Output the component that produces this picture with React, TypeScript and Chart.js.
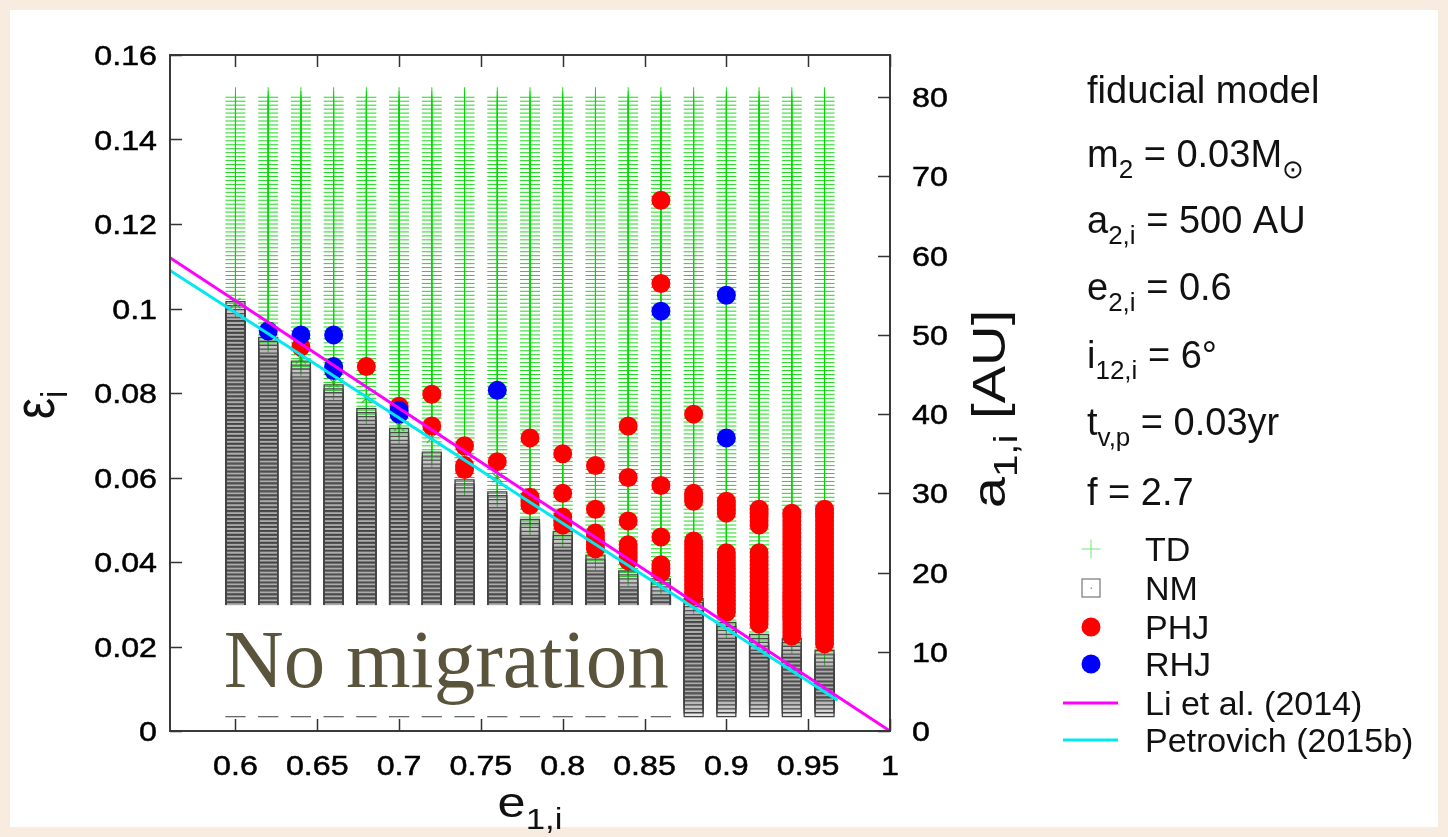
import React, { useEffect, useRef } from "react";
import { Chart, registerables } from "chart.js";

Chart.register(...registerables);

// ---------------- data ----------------
// initial eccentricity of the inner planet for every simulated column
const eColumns = [0.60, 0.62, 0.64, 0.66, 0.68, 0.70, 0.72, 0.74, 0.76, 0.78, 0.80, 0.82, 0.84, 0.86, 0.88, 0.90, 0.92, 0.94, 0.96];
// initial semi-major axis grid of the simulations (AU)
const aGridStart = 3;
const aGridEnd = 80;
const aGridStep = 0.5;
// highest a_{1,i} (AU) of each column that ended as "no migration"
const nmTopAU = [53, 48.5, 45.5, 42.5, 39.5, 37, 34, 30.5, 29, 25.5, 24, 21, 19, 18, 15.5, 12.5, 11, 10.5, 9];
// prograde hot Jupiters: [from, to] ranges of a_{1,i} (AU) per column
const phjAU: number[][][] = [
  [], [], [[48.5, 48.5]], [], [[46, 46]], [[41, 41]],
  [[42.5, 42.5], [38.5, 38.5]],
  [[36, 36], [33, 33.5]],
  [[34, 34]],
  [[37, 37], [28.5, 29.5]],
  [[35, 35], [30, 30], [26, 27]],
  [[33.5, 33.5], [28, 28], [23, 25]],
  [[38.5, 38.5], [32, 32], [26.5, 26.5], [21.5, 23.5]],
  [[67, 67], [56.5, 56.5], [31, 31], [24.5, 24.5], [20, 21]],
  [[40, 40], [29, 30], [17, 24]],
  [[27.5, 29], [15, 22.5]],
  [[26, 28], [13.5, 22.5]],
  [[12, 27.5]],
  [[11, 28]],
];
// retrograde hot Jupiters: a_{1,i} (AU) per column
const rhjAU: number[][] = [
  [], [50.5], [50], [50, 45.5, 46], [], [40, 40.5], [], [], [43], [], [], [], [], [53], [], [55, 37], [], [], [],
];
// green "x" marks sitting on the NM / TD border (AU)
const edgeMarkAU = [54, 51, 47, 44, 42, 38.5, 37, 34.5, 32, 30];
// analytic criteria (epsilon vs e_{1,i})
const liE = [0.56, 1.0];
const liEps = [0.112, 0.0];
const petE = [0.56, 0.968];
const petEps = [0.109, 0.0073];
// axes
const xTicks = [0.6, 0.65, 0.7, 0.75, 0.8, 0.85, 0.9, 0.95, 1];
const xTickLabels = ["0.6", "0.65", "0.7", "0.75", "0.8", "0.85", "0.9", "0.95", "1"];
const yTicks = [0, 0.02, 0.04, 0.06, 0.08, 0.1, 0.12, 0.14, 0.16];
const yTickLabels = ["0", "0.02", "0.04", "0.06", "0.08", "0.1", "0.12", "0.14", "0.16"];
const y2Ticks = [0, 10, 20, 30, 40, 50, 60, 70, 80];
const y2TickLabels = ["0", "10", "20", "30", "40", "50", "60", "70", "80"];
const epsPerAU = 0.001875; // eps = a1 / a2 * e2 / (1 - e2^2)
const annotationText = "No migration";
const annotationBoxE = [0.588, 0.8715];
const annotationBoxEps = [0.0035, 0.0298];

type Run = { t: string; sub?: boolean };
const paramLines: Run[][] = [
  [{ t: "fiducial model" }],
  [{ t: "m" }, { t: "2", sub: true }, { t: " = 0.03M" }, { t: "\u2299", sub: true }],
  [{ t: "a" }, { t: "2,i", sub: true }, { t: " = 500 AU" }],
  [{ t: "e" }, { t: "2,i", sub: true }, { t: " = 0.6" }],
  [{ t: "i" }, { t: "12,i", sub: true }, { t: " = 6\u00b0" }],
  [{ t: "t" }, { t: "v,p", sub: true }, { t: " = 0.03yr" }],
  [{ t: "f = 2.7" }],
];
const legendLabels = ["TD", "NM", "PHJ", "RHJ", "Li et al. (2014)", "Petrovich (2015b)"];

// ---------------- build point sets from the grid ----------------
const aGrid: number[] = [];
for (let a = aGridStart; a <= aGridEnd + 1e-9; a += aGridStep) aGrid.push(Math.round(a * 2) / 2);

const inRanges = (a: number, rs: number[][]) => rs.some(([lo, hi]) => a >= lo - 1e-9 && a <= hi + 1e-9);

const tdPts: { x: number; y: number }[] = [];
const nmPts: { x: number; y: number }[] = [];
const phjPts: { x: number; y: number }[] = [];
const rhjPts: { x: number; y: number }[] = [];
const edgePts: { x: number; y: number }[] = [];
eColumns.forEach((e, i) => {
  aGrid.forEach((a) => {
    if (a <= nmTopAU[i] + 1e-9) nmPts.push({ x: e, y: a });
    else if (!inRanges(a, phjAU[i]) && !rhjAU[i].includes(a)) tdPts.push({ x: e, y: a });
  });
  aGrid.forEach((a) => {
    if (inRanges(a, phjAU[i])) phjPts.push({ x: e, y: a });
  });
  rhjAU[i].forEach((a) => rhjPts.push({ x: e, y: a }));
  if (i < edgeMarkAU.length) edgePts.push({ x: e, y: edgeMarkAU[i] });
});

// ---------------- drawing helpers ----------------
const SANS = '"Liberation Sans", Arial, Helvetica, sans-serif';

function drawStretched(ctx: CanvasRenderingContext2D, text: string, x: number, y: number, font: string, align: CanvasTextAlign, sx: number) {
  ctx.save();
  ctx.translate(x, y);
  ctx.scale(sx, 1);
  ctx.font = font;
  ctx.textAlign = align;
  ctx.textBaseline = "alphabetic";
  ctx.fillText(text, 0, 0);
  ctx.lineWidth = 0.5;
  ctx.strokeStyle = ctx.fillStyle as string;
  ctx.strokeText(text, 0, 0);
  ctx.restore();
}

function runsWidth(ctx: CanvasRenderingContext2D, runs: Run[], size: number, subSize: number) {
  let w = 0;
  runs.forEach((r) => {
    ctx.font = `${r.sub ? subSize : size}px ${SANS}`;
    w += ctx.measureText(r.t).width;
  });
  return w;
}

function drawRuns(ctx: CanvasRenderingContext2D, runs: Run[], x: number, y: number, size: number, subSize: number, subDy: number) {
  let cx = x;
  ctx.textAlign = "left";
  ctx.textBaseline = "alphabetic";
  runs.forEach((r) => {
    ctx.font = `${r.sub ? subSize : size}px ${SANS}`;
    ctx.fillText(r.t, cx, r.sub ? y + subDy : y);
    cx += ctx.measureText(r.t).width;
  });
}

const decorPlugin = {
  id: "decor",
  beforeDraw(chart: any) {
    const ctx: CanvasRenderingContext2D = chart.ctx;
    ctx.save();
    ctx.fillStyle = "#f8ebdf";
    ctx.fillRect(0, 0, chart.width, chart.height);
    ctx.fillStyle = "#ffffff";
    ctx.fillRect(10, 10, chart.width - 20, chart.height - 20);
    ctx.restore();
  },
  afterDatasetsDraw(chart: any) {
    const ctx: CanvasRenderingContext2D = chart.ctx;
    const { chartArea: ca, scales } = chart;
    const xs = scales.x, ys = scales.y, y2s = scales.y2;
    ctx.save();

    // annotation box
    const bx0 = xs.getPixelForValue(annotationBoxE[0]);
    const bx1 = xs.getPixelForValue(annotationBoxE[1]);
    const by0 = ys.getPixelForValue(annotationBoxEps[1]);
    const by1 = ys.getPixelForValue(annotationBoxEps[0]);
    ctx.fillStyle = "#ffffff";
    ctx.fillRect(bx0, by0, bx1 - bx0, by1 - by0);
    ctx.fillStyle = "#5a543c";
    ctx.font = '83px "Liberation Serif", "Times New Roman", serif';
    ctx.textAlign = "left";
    ctx.textBaseline = "alphabetic";
    ctx.fillText(annotationText, bx0 + 8, by0 + 82);

    // frame
    ctx.strokeStyle = "#3a3a3a";
    ctx.lineWidth = 2;
    ctx.strokeRect(ca.left, ca.top, ca.right - ca.left, ca.bottom - ca.top);

    // inward ticks
    ctx.lineWidth = 1.5;
    ctx.strokeStyle = "#333";
    const TL = 12;
    ctx.beginPath();
    xTicks.forEach((v) => {
      const px = Math.round(xs.getPixelForValue(v)) + 0.5;
      ctx.moveTo(px, ca.bottom);
      ctx.lineTo(px, ca.bottom - TL);
      ctx.moveTo(px, ca.top);
      ctx.lineTo(px, ca.top + TL);
    });
    yTicks.forEach((v) => {
      const py = Math.round(ys.getPixelForValue(v)) + 0.5;
      ctx.moveTo(ca.left, py);
      ctx.lineTo(ca.left + TL, py);
    });
    y2Ticks.forEach((v) => {
      const py = Math.round(y2s.getPixelForValue(v)) + 0.5;
      ctx.moveTo(ca.right, py);
      ctx.lineTo(ca.right - TL, py);
    });
    ctx.stroke();

    // tick labels
    ctx.fillStyle = "#000";
    const tf = `28px ${SANS}`;
    const SX = 1.15;
    xTicks.forEach((v, i) => drawStretched(ctx, xTickLabels[i], xs.getPixelForValue(v), ca.bottom + 44, tf, "center", SX));
    yTicks.forEach((v, i) => drawStretched(ctx, yTickLabels[i], ca.left - 13, ys.getPixelForValue(v) + 10, tf, "right", SX));
    y2Ticks.forEach((v, i) => drawStretched(ctx, y2TickLabels[i], ca.right + 22, y2s.getPixelForValue(v) + 10, tf, "left", SX));

    // x title
    ctx.fillStyle = "#111";
    const xt: Run[] = [{ t: "e" }, { t: "1,i", sub: true }];
    ctx.save();
    const xcx = (ca.left + ca.right) / 2;
    ctx.translate(xcx, ca.bottom + 86);
    ctx.scale(1.2, 1);
    const xw = runsWidth(ctx, xt, 42, 29);
    drawRuns(ctx, xt, -xw / 2, 0, 42, 29, 12);
    ctx.restore();

    // y title (rotated)
    const yt: Run[] = [{ t: "\u03b5" }, { t: "i", sub: true }];
    ctx.save();
    ctx.translate(54, (ca.top + ca.bottom) / 2 + 12);
    ctx.rotate(-Math.PI / 2);
    ctx.scale(1, 1.2);
    const yw = runsWidth(ctx, yt, 48, 31);
    drawRuns(ctx, yt, -yw / 2, 0, 48, 31, 11);
    ctx.restore();

    // y2 title (rotated)
    const y2t: Run[] = [{ t: "a" }, { t: "1,i", sub: true }, { t: " [AU]" }];
    ctx.save();
    ctx.translate(1005, (ca.top + ca.bottom) / 2 + 16);
    ctx.rotate(-Math.PI / 2);
    ctx.scale(1.22, 1);
    const y2w = runsWidth(ctx, y2t, 46, 33);
    drawRuns(ctx, y2t, -y2w / 2, 0, 46, 33, 12);
    ctx.restore();

    // parameter block
    ctx.fillStyle = "#111";
    const baselines = [103, 167, 233, 300, 368, 435, 505];
    paramLines.forEach((runs, i) => drawRuns(ctx, runs, 1087, baselines[i], 38, 26, 11));

    // legend
    const lx = 1091;
    const rows = [549, 588, 627, 664, 703, 740];
    // TD
    ctx.strokeStyle = "rgba(60,220,60,0.7)";
    ctx.lineWidth = 1;
    ctx.beginPath();
    ctx.moveTo(lx - 9.5, rows[0]);
    ctx.lineTo(lx + 9.5, rows[0]);
    ctx.moveTo(lx, rows[0] - 9.5);
    ctx.lineTo(lx, rows[0] + 9.5);
    ctx.stroke();
    // NM
    ctx.strokeStyle = "#777";
    ctx.lineWidth = 1.2;
    ctx.strokeRect(lx - 9, rows[1] - 9, 18, 18);
    ctx.fillStyle = "#999";
    ctx.fillRect(lx - 0.5, rows[1] - 0.5, 1.5, 1.5);
    // PHJ / RHJ
    ctx.fillStyle = "#ff0000";
    ctx.beginPath();
    ctx.arc(lx, rows[2], 9.5, 0, Math.PI * 2);
    ctx.fill();
    ctx.fillStyle = "#0000ff";
    ctx.beginPath();
    ctx.arc(lx, rows[3], 9.5, 0, Math.PI * 2);
    ctx.fill();
    // lines
    ctx.lineWidth = 3;
    ctx.strokeStyle = "#ff00ff";
    ctx.beginPath();
    ctx.moveTo(1063, rows[4]);
    ctx.lineTo(1118, rows[4]);
    ctx.stroke();
    ctx.strokeStyle = "#00e8f0";
    ctx.beginPath();
    ctx.moveTo(1063, rows[5]);
    ctx.lineTo(1118, rows[5]);
    ctx.stroke();
    ctx.fillStyle = "#111";
    ctx.font = `34px ${SANS}`;
    ctx.textAlign = "left";
    ctx.textBaseline = "alphabetic";
    legendLabels.forEach((l, i) => ctx.fillText(l, 1145, rows[i] + 12));

    ctx.restore();
  },
};

export default function App() {
  const ref = useRef<HTMLCanvasElement | null>(null);
  useEffect(() => {
    document.body.style.margin = "0";
    const canvas = ref.current!;
    const chart = new Chart(canvas, {
      type: "scatter",
      data: {
        datasets: [
          {
            label: "Petrovich (2015b)",
            data: petE.map((e, i) => ({ x: e, y: petEps[i] })),
            yAxisID: "y",
            showLine: true,
            borderColor: "#00e8f0",
            borderWidth: 3,
            pointRadius: 0,
            order: 0,
          },
          {
            label: "Li et al. (2014)",
            data: liE.map((e, i) => ({ x: e, y: liEps[i] })),
            yAxisID: "y",
            showLine: true,
            borderColor: "#ff00ff",
            borderWidth: 3,
            pointRadius: 0,
            order: 1,
          },
          {
            label: "RHJ",
            data: rhjPts,
            yAxisID: "y2",
            pointStyle: "circle",
            pointRadius: 9.5,
            backgroundColor: "#0000ff",
            borderColor: "#0000ff",
            pointBorderWidth: 0,
            order: 2,
          },
          {
            label: "PHJ",
            data: phjPts,
            yAxisID: "y2",
            pointStyle: "circle",
            pointRadius: 9.5,
            backgroundColor: "#ff0000",
            borderColor: "#ff0000",
            pointBorderWidth: 0,
            order: 3,
          },
          {
            label: "edge",
            data: edgePts,
            yAxisID: "y2",
            pointStyle: "crossRot",
            pointRadius: 7,
            backgroundColor: "rgba(0,0,0,0)",
            borderColor: "rgba(40,170,40,0.85)",
            pointBorderWidth: 1.2,
            order: 4,
          },
          {
            label: "NM",
            data: nmPts,
            yAxisID: "y2",
            pointStyle: "rect",
            pointRadius: 13.4,
            backgroundColor: "rgba(110,110,110,0.15)",
            borderColor: "#444",
            pointBorderWidth: 1.3,
            order: 5,
          },
          {
            label: "TD",
            data: tdPts,
            yAxisID: "y2",
            pointStyle: "cross",
            pointRadius: 10,
            backgroundColor: "rgba(0,0,0,0)",
            borderColor: "rgba(0,215,0,0.9)",
            pointBorderWidth: 1,
            order: 6,
          },
        ],
      },
      options: {
        responsive: false,
        animation: false,
        devicePixelRatio: 1,
        events: [],
        layout: { padding: { left: 170, top: 55, right: 558, bottom: 106 } },
        plugins: { legend: { display: false }, tooltip: { enabled: false } },
        scales: {
          x: { type: "linear", min: 0.56, max: 1, display: false },
          y: { type: "linear", min: 0, max: 0.16, display: false },
          y2: { type: "linear", position: "right", min: 0, max: 0.16 / epsPerAU, display: false },
        },
      },
      plugins: [decorPlugin],
    });
    return () => chart.destroy();
  }, []);
  return (
    <div style={{ width: 1448, height: 837 }}>
      <canvas ref={ref} width={1448} height={837} style={{ width: 1448, height: 837, display: "block" }} />
    </div>
  );
}
